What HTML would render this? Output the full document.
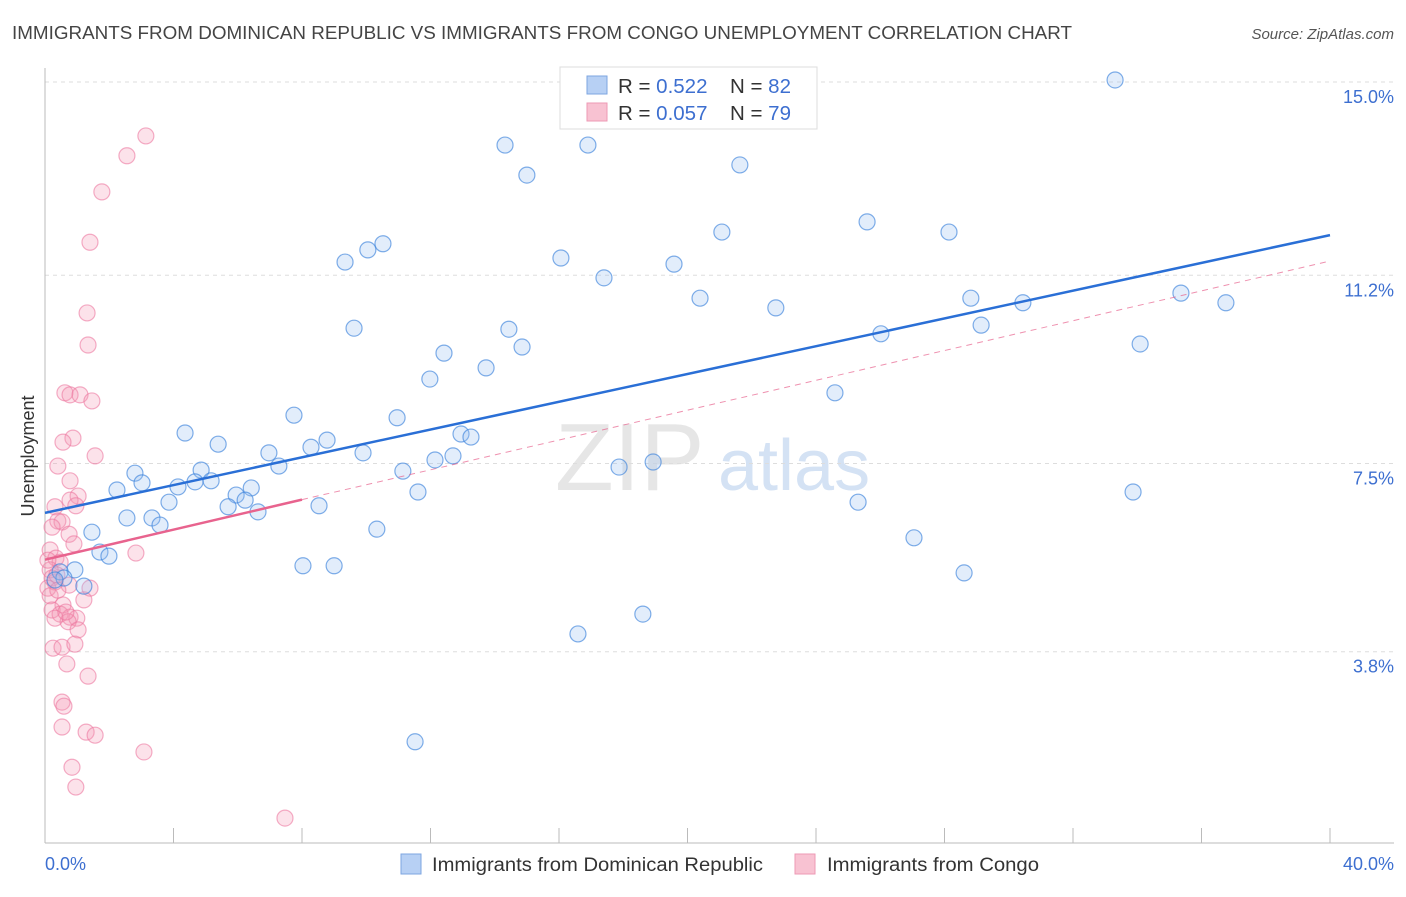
<!DOCTYPE html>
<html><head><meta charset="utf-8">
<style>
body{margin:0;background:#fff;font-family:"Liberation Sans",sans-serif;}
svg text{font-family:"Liberation Sans",sans-serif;}
</style></head>
<body>
<svg id="chart" width="1406" height="892" viewBox="0 0 1406 892">
<text x="12" y="39" font-size="18" fill="#444" textLength="1060" lengthAdjust="spacingAndGlyphs">IMMIGRANTS FROM DOMINICAN REPUBLIC VS IMMIGRANTS FROM CONGO UNEMPLOYMENT CORRELATION CHART</text>
<text x="1394" y="39" font-size="15" fill="#555" font-style="italic" text-anchor="end">Source: ZipAtlas.com</text>
<text x="555" y="490" font-size="96" fill="#e6e6e6" font-family="Liberation Serif">ZIP</text>
<text x="718" y="490" font-size="72" fill="#d4e2f4">atlas</text>
<g id="grid"></g>
<g id="axes"></g>
<g id="pts"></g>
<g id="lines"></g>
<text transform="translate(34,456) rotate(-90)" font-size="18" fill="#333" text-anchor="middle">Unemployment</text>
<text x="45" y="870" font-size="18" fill="#3d6fd0">0.0%</text>
<text x="1394" y="870" font-size="18" fill="#3d6fd0" text-anchor="end">40.0%</text>
<g>
<rect x="560" y="67" width="257" height="62" fill="#fff" stroke="#ddd"/>
<rect x="587" y="76" width="20" height="18" fill="#b7d0f4" stroke="#7ea6e0"/>
<rect x="587" y="103" width="20" height="18" fill="#f8c2d2" stroke="#ee99b4"/>
<text x="618" y="93" font-size="20.5" fill="#333">R = <tspan fill="#3d6fd0">0.522</tspan><tspan x="730">N = </tspan><tspan fill="#3d6fd0">82</tspan></text>
<text x="618" y="120" font-size="20.5" fill="#333">R = <tspan fill="#3d6fd0">0.057</tspan><tspan x="730">N = </tspan><tspan fill="#3d6fd0">79</tspan></text>
</g>
<g>
<rect x="401" y="854" width="20" height="20" fill="#b7d0f4" stroke="#7ea6e0"/>
<text x="432" y="871" font-size="19.6" fill="#333" textLength="331" lengthAdjust="spacingAndGlyphs">Immigrants from Dominican Republic</text>
<rect x="795" y="854" width="20" height="20" fill="#f8c2d2" stroke="#ee99b4"/>
<text x="827" y="871" font-size="19.6" fill="#333" textLength="212" lengthAdjust="spacingAndGlyphs">Immigrants from Congo</text>
</g>
</svg>
<script>
const yTicks=[15.0,11.2,7.5,3.8];
const yTickLabels=["15.0%","11.2%","7.5%","3.8%"];
const xTicks=[0,4,8,12,16,20,24,28,32,36,40];
const blueX=[33.31,14.32,16.90,15.00,21.63,25.59,28.14,21.07,10.52,10.05,9.34,16.06,19.58,17.40,20.39,22.75,28.82,30.44,35.36,36.76,29.14,26.02,34.09,9.62,14.44,14.85,12.42,13.73,11.98,24.59,7.75,10.96,4.36,8.78,12.95,13.26,5.39,8.28,6.97,9.90,12.70,12.14,7.28,17.87,18.93,4.86,11.14,2.80,3.02,2.24,4.14,4.67,5.17,3.86,5.95,6.42,6.23,5.70,6.63,11.61,8.53,2.55,3.33,3.58,1.46,10.33,25.31,33.87,27.05,1.71,1.99,8.03,9.00,28.61,0.93,0.47,0.59,1.21,18.61,16.59,11.52,0.31];
const blueY=[15.04,13.76,13.76,13.17,13.37,12.25,12.05,12.05,11.82,11.70,11.46,11.54,11.42,11.15,10.75,10.56,10.75,10.66,10.85,10.66,10.22,10.05,9.85,10.16,10.14,9.79,9.67,9.38,9.16,8.89,8.45,8.40,8.10,7.96,8.08,8.02,7.88,7.82,7.71,7.71,7.65,7.57,7.45,7.43,7.53,7.37,7.35,7.31,7.12,6.98,7.04,7.14,7.16,6.74,6.88,7.02,6.78,6.65,6.55,6.94,6.67,6.43,6.43,6.29,6.15,6.21,6.74,6.94,6.04,5.76,5.68,5.49,5.49,5.35,5.41,5.37,5.25,5.09,4.54,4.15,2.03,5.21];
const pinkX=[3.14,2.55,1.77,1.40,1.31,1.34,0.62,0.78,1.09,1.46,0.87,0.56,1.56,0.40,0.78,1.03,0.78,0.31,0.96,0.40,0.53,0.22,0.75,0.90,2.83,0.16,0.34,0.47,0.16,0.22,0.31,0.09,0.16,0.75,1.40,0.40,1.21,0.56,0.22,0.47,0.78,0.99,0.72,0.31,1.03,0.25,0.53,0.93,0.68,1.34,0.53,0.59,0.53,1.28,1.56,3.08,0.84,0.96,7.47,0.09,0.37,0.65];
const pinkY=[13.94,13.55,12.84,11.85,10.46,9.83,8.89,8.85,8.85,8.73,8.00,7.92,7.65,7.45,7.16,6.86,6.78,6.65,6.67,6.37,6.35,6.25,6.11,5.92,5.74,5.80,5.64,5.56,5.41,5.25,5.17,5.05,4.90,5.11,5.05,5.01,4.82,4.72,4.62,4.54,4.48,4.46,4.39,4.46,4.23,3.87,3.89,3.95,3.56,3.32,2.81,2.73,2.32,2.22,2.16,1.83,1.53,1.14,0.53,5.60,5.31,4.58];
const blueLine=[[0,6.53],[40,11.99]];
const pinkLine=[[0,5.61],[8,6.79],[40,11.48]];
const NS="http://www.w3.org/2000/svg";
const xs=v=>45+v/40*1285;
const ys=v=>82+(15-v)*50.87;
function mk(tag,attrs,parent){const e=document.createElementNS(NS,tag);for(const k in attrs)e.setAttribute(k,attrs[k]);document.getElementById(parent).appendChild(e);return e;}
yTicks.forEach((t,i)=>{
  const g=mk('line',{x1:45,x2:1394,y1:ys(t),y2:ys(t),stroke:'#ddd','stroke-dasharray':'4,4'},'grid');
  
  
  const l=mk('text',{x:1394,y:ys(t)+21,'font-size':18,fill:'#3d6fd0','text-anchor':'end'},'grid');
  l.textContent=yTickLabels[i];
  
  
});
const ax=mk('line',{x1:45,x2:45,y1:68,y2:843,stroke:'#bbb'},'axes');


const bx=mk('line',{x1:45,x2:1394,y1:843,y2:843,stroke:'#bbb'},'axes');


xTicks.forEach(t=>{
  const e=mk('line',{x1:xs(t),x2:xs(t),y1:828,y2:843,stroke:'#bbb'},'axes');
  
  
});
pinkX.forEach((x,i)=>{
  const c=mk('circle',{cx:xs(x),cy:ys(pinkY[i]),r:8,fill:'rgba(244,150,180,0.28)',stroke:'rgba(236,120,160,0.6)','stroke-width':1.2},'pts');
  
  
});
blueX.forEach((x,i)=>{
  const c=mk('circle',{cx:xs(x),cy:ys(blueY[i]),r:8,fill:'rgba(150,190,240,0.28)',stroke:'rgba(60,130,220,0.65)','stroke-width':1.2},'pts');
  
  
});
const bl=mk('line',{x1:xs(blueLine[0][0]),y1:ys(blueLine[0][1]),x2:xs(blueLine[1][0]),y2:ys(blueLine[1][1]),stroke:'#2a6fd6','stroke-width':2.5},'lines');


const pl=mk('line',{x1:xs(pinkLine[0][0]),y1:ys(pinkLine[0][1]),x2:xs(pinkLine[1][0]),y2:ys(pinkLine[1][1]),stroke:'#e8638e','stroke-width':2.5},'lines');


const pd=mk('line',{x1:xs(pinkLine[1][0]),y1:ys(pinkLine[1][1]),x2:xs(pinkLine[2][0]),y2:ys(pinkLine[2][1]),stroke:'#e8638e','stroke-width':1,'stroke-dasharray':'6,5',opacity:0.7},'lines');


</script>
</body></html>
